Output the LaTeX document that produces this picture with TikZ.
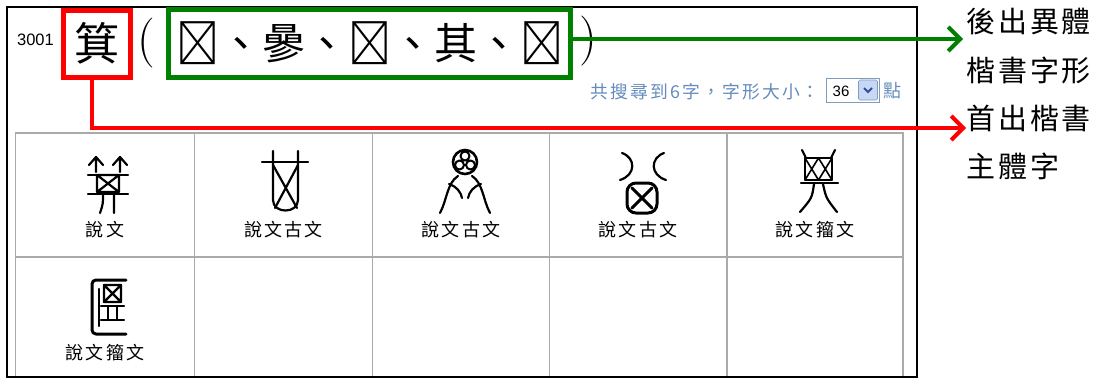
\documentclass[tikz,border=0pt]{standalone}
\usepackage{fontspec}
\usepackage{tikz,color}
\usetikzlibrary{positioning,arrows.meta}
\newfontfamily\cjk{Noto Sans CJK TC}
\newfontfamily\cjkl[LetterSpace=12]{Noto Sans CJK TC}
\newfontfamily\kai[LetterSpace=10]{Noto Sans CJK TC}
\newfontfamily\arial{Liberation Sans}
\definecolor{vert}{RGB}{0,128,0}
\definecolor{bleu}{RGB}{100,140,190}
\definecolor{grille}{RGB}{170,170,170}
\definecolor{cadre}{RGB}{127,157,185}
\definecolor{bouton}{RGB}{200,215,245}
\definecolor{fonce}{RGB}{50,80,150}

\begin{document}
\begin{tikzpicture}[x=1pt,y=-1pt,
  glyphe/.style={line width=2.2pt, line cap=round, line join=round},
  source/.style={font=\cjkl\fontsize{18}{18}\selectfont, inner sep=0pt},
  note/.style={font=\kai\fontsize{29}{29}\selectfont, anchor=west, inner sep=0pt},
  fleche/.style={line width=4pt, -{Straight Barb[length=12pt,width=24pt]}}]
\useasboundingbox (0,0) rectangle (1097,381);
\fill[white] (0,0) rectangle (1097,381);

    \draw[grille, line width=1.5pt] (15.5,377) -- (15.5,133) -- (903,133) -- (903,377);
    \foreach \x in {194.5,372.5,549.5,727} \draw[grille, line width=1.5pt] (\x,133) -- (\x,377);
    \draw[grille, line width=1.5pt] (15.5,257) -- (903,257);
    \draw[line width=1.6pt] (7,7) rectangle (917,377);

    \node[font=\arial\fontsize{16.5}{16.5}\selectfont, inner sep=0pt] (numero) at (35.5,40) {3001};
    \node[draw=red, line width=5pt, minimum width=67pt, minimum height=67.5pt, inner sep=0pt, font=\cjk\fontsize{45}{45}\selectfont] (zhu) at (97,43.75) {箕};
    \node[font=\fontsize{50}{50}\selectfont, inner sep=0pt] (gauche) at (146,43) {(};
    \node[draw=vert, line width=5pt, minimum width=402pt, minimum height=68pt, inner sep=0pt, font=\cjk\fontsize{43}{43}\selectfont] (yiti) at (369.5,43.5) {𠀠、曑、𠔱、其、𠥓};
    \node[font=\fontsize{50}{50}\selectfont, inner sep=0pt] (droite) at (588,41) {)};

    \coordinate (pointe1) at (963,39);
    \coordinate (pointe2) at (966,128);
    \draw[fleche, vert] ([yshift=4.5pt]yiti.east) -- (pointe1);
    \draw[fleche, red] ([xshift=-5pt]zhu.south) |- (pointe2);

    \node[note] (ligne1) at (966,22) {後出異體};
    \node[note] (ligne2) at (966,70) {楷書字形};
    \node[note] (ligne3) at (966,118) {首出楷書};
    \node[note] (ligne4) at (966,166) {主體字};

    \node[font=\cjkl\fontsize{17.8}{17.8}\selectfont, text=bleu, anchor=east, inner sep=0pt] (compte) at (820,92) {共搜尋到6字，字形大小：};
    \node[draw=cadre, line width=1pt, minimum width=53pt, minimum height=24pt, inner sep=0pt] (taille) at (852.5,90) {};
    \node[font=\arial\fontsize{15}{15}\selectfont, inner sep=0pt] (valeur) at (841,91) {36};
    \node[fill=bouton, draw=cadre, line width=0.6pt, minimum width=19pt, minimum height=20pt, inner sep=0pt, rounded corners=1.5pt] (bouton) at (868,90) {};
    \draw[fonce, line width=1.8pt] (864,88) -- (868,92) -- (872,88);
    \node[font=\cjk\fontsize{18}{18}\selectfont, text=bleu, inner sep=0pt] (dian) at (892,91) {點};

    \draw[glyphe] (96,172) -- (96,157) (89,165) -- (96,157) -- (103,165);
    \draw[glyphe] (120,172) -- (120,157) (113,165) -- (120,157) -- (127,165);
    \draw[glyphe] (88,175) -- (128,175) (88,194) -- (128,194);
    \draw[glyphe] (97,175) rectangle (119,192) (97,175) -- (119,192) (119,175) -- (97,192);
    \draw[glyphe] (103,194) .. controls (103,204) .. (100,213) (114,194) -- (114,213);

    \draw[glyphe] (262,162) -- (308,162);
    \draw[glyphe] (273,151) -- (273,200) .. controls (273,214) and (298,214) .. (298,200) -- (298,151);
    \draw[glyphe] (273,165) -- (297,208) (298,165) -- (275,208);

    \draw[glyphe, line width=2.6pt] (465,162) circle[radius=12];
    \draw[glyphe, line width=2pt] (465,156) circle[radius=4.5] (459.5,165) circle[radius=4.5] (470.5,165) circle[radius=4.5];
    \draw[glyphe] (458,176) .. controls (447,183) and (447,200) .. (440,213);
    \draw[glyphe] (449,184) .. controls (456,186) and (461,192) .. (462,198);
    \draw[glyphe] (472,176) .. controls (483,183) and (483,200) .. (490,213);
    \draw[glyphe] (481,184) .. controls (474,186) and (469,192) .. (468,198);

    \draw[glyphe] (622,153) .. controls (636,158) and (636,175) .. (620,180);
    \draw[glyphe] (664,153) .. controls (650,158) and (650,175) .. (666,180);
    \draw[glyphe, line width=3pt, rounded corners=9pt] (627,183) rectangle (657,213);
    \draw[glyphe, line width=3pt] (632,188) -- (652,208) (652,188) -- (632,208);

    \draw[glyphe] (805,158) rectangle (832,180);
    \draw[glyphe, line width=1.6pt] (805,158) -- (818.5,180) (818.5,158) -- (805,180) (818.5,158) -- (832,180) (832,158) -- (818.5,180);
    \draw[glyphe] (806,158) -- (802,150) (831,158) -- (835,150);
    \draw[glyphe] (801,183) -- (838,183);
    \draw[glyphe] (814,184) .. controls (812,198) .. (800,212) (823,184) .. controls (826,198) .. (837,212);

    \draw[glyphe, line width=3pt, rounded corners=4pt] (126,280) -- (92,280) -- (92,334) -- (126,334);
    \draw[glyphe] (99,289) -- (99,326);
    \draw[glyphe] (104,285) rectangle (121,302) (104,285) -- (121,302) (121,285) -- (104,302);
    \draw[glyphe] (101,306) -- (124,306) (108,306) -- (108,320) (117,306) -- (117,320) (101,320) -- (124,320);

    \node[source] (s1) at (105,230) {說文};
    \node[source] (s2) at (283.5,230) {說文古文};
    \node[source] (s3) at (461,230) {說文古文};
    \node[source] (s4) at (638,230) {說文古文};
    \node[source] (s5) at (815,230) {說文籀文};
    \node[source] (s6) at (105,353) {說文籀文};
\end{tikzpicture}
\end{document}
